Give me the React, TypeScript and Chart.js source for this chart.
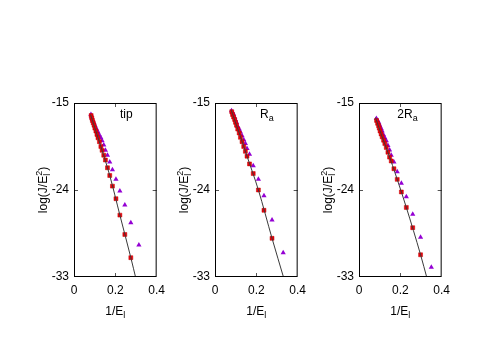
import React, { useEffect, useRef } from "react";
import { Chart, registerables } from "chart.js";
Chart.register(...registerables);

const X_TICKS = [0, 0.2, 0.4];
const Y_TICKS = [-33, -24, -15];

// Panel "tip"
const TIP_X = [0.083, 0.086, 0.089, 0.093, 0.097, 0.101, 0.106, 0.111, 0.116, 0.123, 0.130, 0.136, 0.144, 0.152, 0.162, 0.173, 0.186, 0.203, 0.222, 0.246, 0.275];
const TIP_RED = [-16.3, -16.55, -16.8, -17.05, -17.3, -17.6, -17.9, -18.25, -18.6, -19.0, -19.5, -19.9, -20.4, -20.9, -21.7, -22.5, -23.6, -24.9, -26.6, -28.6, -31.0];
const TIP_PURPLE_X = [0.082, 0.086, 0.089, 0.093, 0.097, 0.101, 0.106, 0.111, 0.116, 0.123, 0.130, 0.136, 0.144, 0.152, 0.162, 0.173, 0.186, 0.203, 0.222, 0.246, 0.275, 0.314];
const TIP_PURPLE = [-16.2, -16.5, -16.7, -16.9, -17.1, -17.3, -17.55, -17.8, -18.0, -18.3, -18.6, -18.9, -19.35, -19.9, -20.4, -21.1, -21.9, -22.9, -24.1, -25.55, -27.4, -29.7];
const TIP_FIT_X = [0.080, 0.130, 0.173, 0.222, 0.275, 0.300];
const TIP_FIT_Y = [-16.2, -19.5, -22.5, -26.6, -31.0, -33.2];

// Panel "Ra"
const RA_X = [0.081, 0.085, 0.090, 0.095, 0.099, 0.104, 0.110, 0.117, 0.123, 0.131, 0.139, 0.147, 0.155, 0.167, 0.185, 0.210, 0.237, 0.276];
const RA_RED = [-15.9, -16.2, -16.45, -16.7, -17.0, -17.3, -17.7, -18.1, -18.55, -19.0, -19.5, -20.0, -20.5, -21.3, -22.3, -24.0, -26.1, -29.0];
const RA_PURPLE_X = [0.080, 0.085, 0.090, 0.095, 0.099, 0.104, 0.110, 0.117, 0.123, 0.131, 0.139, 0.147, 0.155, 0.167, 0.185, 0.210, 0.237, 0.276, 0.330];
const RA_PURPLE = [-15.8, -16.0, -16.15, -16.5, -16.75, -17.0, -17.4, -17.7, -18.0, -18.4, -18.8, -19.2, -19.7, -20.3, -21.5, -22.9, -24.6, -27.1, -30.5];
const RA_FIT_X = [0.078, 0.117, 0.155, 0.210, 0.276, 0.334];
const RA_FIT_Y = [-15.7, -18.1, -20.5, -24.0, -29.0, -33.2];

// Panel "2Ra"
const R2A_X = [0.085, 0.090, 0.095, 0.098, 0.102, 0.107, 0.112, 0.119, 0.125, 0.132, 0.140, 0.148, 0.156, 0.169, 0.185, 0.205, 0.229, 0.260, 0.298];
const R2A_RED = [-16.8, -17.1, -17.35, -17.6, -17.9, -18.2, -18.5, -18.85, -19.2, -19.6, -20.1, -20.6, -21.0, -21.8, -22.9, -24.2, -25.8, -27.9, -30.7];
const R2A_PURPLE_X = [0.084, 0.090, 0.095, 0.098, 0.102, 0.107, 0.112, 0.119, 0.125, 0.132, 0.140, 0.148, 0.156, 0.169, 0.185, 0.205, 0.229, 0.260, 0.298, 0.350];
const R2A_PURPLE = [-16.6, -16.8, -17.0, -17.2, -17.4, -17.65, -17.9, -18.3, -18.6, -18.9, -19.4, -19.85, -20.4, -21.1, -22.1, -23.3, -24.7, -26.5, -28.9, -32.0];
const R2A_FIT_X = [0.080, 0.112, 0.140, 0.185, 0.229, 0.298, 0.330];
const R2A_FIT_Y = [-16.5, -18.5, -20.1, -22.9, -25.8, -30.7, -33.2];

const PANELS = [
  { label: "tip", sub: "", x: TIP_X, red: TIP_RED, px: TIP_PURPLE_X, purple: TIP_PURPLE, fx: TIP_FIT_X, fy: TIP_FIT_Y },
  { label: "R", sub: "a", x: RA_X, red: RA_RED, px: RA_PURPLE_X, purple: RA_PURPLE, fx: RA_FIT_X, fy: RA_FIT_Y },
  { label: "2R", sub: "a", x: R2A_X, red: R2A_RED, px: R2A_PURPLE_X, purple: R2A_PURPLE, fx: R2A_FIT_X, fy: R2A_FIT_Y },
];

const PANEL_LEFT = [74, 215, 359];
const PLOT_TOP = 103;
const PLOT_W = 83;
const PLOT_H = 174;
const PAD_L = 42;
const PAD_T = 14;
const PAD_R = 14;
const PAD_B = 48;
const FONT = "'Liberation Sans', Arial, sans-serif";
const FS = 12;
const SFS = 9;

type Seg = { t: string; sub?: string; sup?: string };

function measureSegs(ctx: CanvasRenderingContext2D, segs: Seg[]) {
  let w = 0;
  for (const s of segs) {
    if (s.t) {
      ctx.font = `${FS}px ${FONT}`;
      w += ctx.measureText(s.t).width;
    } else {
      ctx.font = `${SFS}px ${FONT}`;
      w += Math.max(s.sub ? ctx.measureText(s.sub).width : 0, s.sup ? ctx.measureText(s.sup).width : 0);
    }
  }
  return w;
}

function drawSegs(ctx: CanvasRenderingContext2D, segs: Seg[], x: number, y: number) {
  let cx = x;
  ctx.textBaseline = "alphabetic";
  ctx.textAlign = "left";
  for (const s of segs) {
    if (s.t) {
      ctx.font = `${FS}px ${FONT}`;
      ctx.fillText(s.t, cx, y);
      cx += ctx.measureText(s.t).width;
    } else {
      ctx.font = `${SFS}px ${FONT}`;
      let w = 0;
      if (s.sub) {
        ctx.fillText(s.sub, cx, y + 3);
        w = Math.max(w, ctx.measureText(s.sub).width);
      }
      if (s.sup) {
        ctx.fillText(s.sup, cx, y - 5);
        w = Math.max(w, ctx.measureText(s.sup).width);
      }
      cx += w;
    }
  }
}

function makeDecor(panelIdx: number) {
  return {
    id: "decor" + panelIdx,
    afterDraw(chart: any) {
      const { ctx, chartArea } = chart;
      const { left, right, top, bottom } = chartArea;
      const xs = chart.scales.x;
      const ys = chart.scales.y;
      ctx.save();
      // inward tick marks (mirrored)
      ctx.strokeStyle = "#555";
      ctx.lineWidth = 1;
      ctx.beginPath();
      for (const v of X_TICKS) {
        const px = Math.round(xs.getPixelForValue(v)) + 0.5;
        if (px <= left + 1 || px >= right - 1) continue;
        ctx.moveTo(px, bottom);
        ctx.lineTo(px, bottom - 4);
        ctx.moveTo(px, top);
        ctx.lineTo(px, top + 4);
      }
      for (const v of Y_TICKS) {
        const py = Math.round(ys.getPixelForValue(v)) + 0.5;
        if (py <= top + 1 || py >= bottom - 1) continue;
        ctx.moveTo(left, py);
        ctx.lineTo(left + 4, py);
        ctx.moveTo(right, py);
        ctx.lineTo(right - 4, py);
      }
      ctx.stroke();
      // frame
      ctx.strokeStyle = "#000";
      ctx.strokeRect(left + 0.5, top + 0.5, right - left - 1, bottom - top - 1);
      ctx.fillStyle = "#000";
      // x title
      const xt: Seg[] = [{ t: "1/E" }, { t: "", sub: "l" }];
      const xw = measureSegs(ctx, xt);
      drawSegs(ctx, xt, (left + right) / 2 - xw / 2, bottom + 38);
      // y title
      const yt: Seg[] = [{ t: "log(J/E" }, { t: "", sub: "l", sup: "2" }, { t: ")" }];
      const yw = measureSegs(ctx, yt);
      ctx.save();
      ctx.translate(left - 27, (top + bottom) / 2);
      ctx.rotate(-Math.PI / 2);
      drawSegs(ctx, yt, -yw / 2, 0);
      ctx.restore();
      // panel label
      const p = PANELS[panelIdx];
      const lt: Seg[] = p.sub ? [{ t: p.label }, { t: "", sub: p.sub }] : [{ t: p.label }];
      const lw = measureSegs(ctx, lt);
      drawSegs(ctx, lt, right - 24 - lw, top + 15);
      ctx.restore();
    },
  };
}

function Panel({ idx }: { idx: number }) {
  const ref = useRef<HTMLCanvasElement>(null);
  useEffect(() => {
    const p = PANELS[idx];
    const tickFont = { family: FONT, size: FS };
    const chart = new Chart(ref.current!, {
      type: "scatter",
      data: {
        datasets: [
          {
            type: "line",
            data: p.fx.map((v, i) => ({ x: v, y: p.fy[i] })),
            borderColor: "#3a3a3a",
            borderWidth: 1,
            pointRadius: 0,
            cubicInterpolationMode: "monotone",
            fill: false,
            order: 0,
          } as any,
          {
            data: p.x.map((v, i) => ({ x: v, y: p.red[i] })),
            pointStyle: "rect",
            pointRadius: 2.8,
            backgroundColor: "#e8000b",
            borderColor: "#c00000",
            borderWidth: 0.5,
            order: 1,
          },
          {
            data: p.px.map((v, i) => ({ x: v, y: p.purple[i] })),
            pointStyle: "triangle",
            pointRadius: 3,
            backgroundColor: "#9400d3",
            borderColor: "#9400d3",
            borderWidth: 0,
            order: 2,
          },
        ],
      },
      options: {
        responsive: false,
        animation: false,
        devicePixelRatio: 1,
        layout: { padding: { top: PAD_T, right: PAD_R, left: 0, bottom: 0 } },
        plugins: { legend: { display: false }, tooltip: { enabled: false } },
        scales: {
          x: {
            type: "linear",
            min: 0,
            max: 0.4,
            afterBuildTicks: (s: any) => {
              s.ticks = X_TICKS.map((v) => ({ value: v }));
            },
            afterFit: (s: any) => {
              s.height = PAD_B;
            },
            ticks: { color: "#000", font: tickFont, padding: 6, maxRotation: 0, autoSkip: false },
            grid: { display: false, drawTicks: false },
            border: { display: false },
          },
          y: {
            type: "linear",
            min: -33,
            max: -15,
            afterBuildTicks: (s: any) => {
              s.ticks = Y_TICKS.map((v) => ({ value: v }));
            },
            afterFit: (s: any) => {
              s.width = PAD_L;
            },
            ticks: { color: "#000", font: tickFont, padding: 5, autoSkip: false },
            grid: { display: false, drawTicks: false },
            border: { display: false },
          },
        },
      },
      plugins: [makeDecor(idx)],
    } as any);
    return () => chart.destroy();
  }, [idx]);
  const w = PAD_L + PLOT_W + PAD_R;
  const h = PAD_T + PLOT_H + PAD_B;
  return (
    <canvas
      ref={ref}
      width={w}
      height={h}
      style={{
        position: "absolute",
        left: PANEL_LEFT[idx] - PAD_L,
        top: PLOT_TOP - PAD_T,
        width: w,
        height: h,
      }}
    />
  );
}

export default function App() {
  return (
    <div
      style={{
        position: "fixed",
        left: 0,
        top: 0,
        width: 498,
        height: 352,
        background: "#fff",
        overflow: "hidden",
      }}
    >
      <Panel idx={0} />
      <Panel idx={1} />
      <Panel idx={2} />
    </div>
  );
}
